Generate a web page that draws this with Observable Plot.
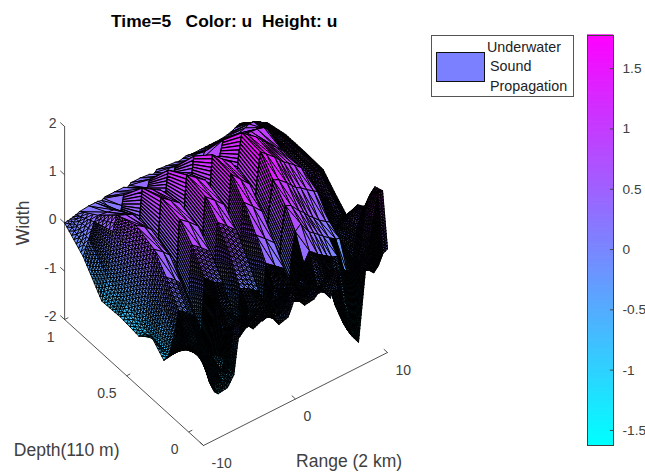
<!DOCTYPE html>
<html><head><meta charset="utf-8">
<script src="https://cdn.jsdelivr.net/npm/d3@7"></script>
<script src="https://cdn.jsdelivr.net/npm/@observablehq/plot@0.6"></script>
<style>
html,body{margin:0;padding:0;background:#fff;font-family:"Liberation Sans",Arial,sans-serif}
#page{position:relative;width:645px;height:472px;overflow:hidden}
#page svg{display:block;position:absolute;background:transparent;overflow:visible}
.t{position:absolute;white-space:pre;color:#000}
#legend{position:absolute;left:431px;top:35px;width:141px;height:60px;border:1.5px solid #555;background:#fff}
#swatch{position:absolute;left:4px;top:16px;width:47px;height:28px;background:#7a80ff;border:1px solid #111}
</style></head><body><div id="page">
<div class="t" style="left:111px;top:11px;font:bold 17.4px 'Liberation Sans'">Time=5   Color: u  Height: u</div>
<div id="legend"><div id="swatch"></div>
<div class="t" style="left:55px;top:3px;font:14.3px 'Liberation Sans';color:#222">Underwater</div>
<div class="t" style="left:58px;top:22px;font:14.3px 'Liberation Sans';color:#222">Sound</div>
<div class="t" style="left:58px;top:42px;font:14.3px 'Liberation Sans';color:#222">Propagation</div></div>
</div>
<script>
const rangeTicks=[-10,0,10], depthTicks=[0,0.5,1], heightTicks=[-2,-1,0,1,2], colorTicks=[-1.5,-1,-0.5,0,0.5,1,1.5];
const colorDomain=[-1.625,1.775];
const rangeVals=[-10,-9.4,-8.8,-8.4,-7.4,-6.7,-6.4,-6,-5.8,-5.6,-4.6,-3.6,-3.2,-3,-2.8,-1.8,-.8,-.4,-.2,0,1,2,2.4,2.8,3.2,3.8,4.7,5.2,5.7,6.2,6.85,7.6,8,8.5,9,9.5,10];
const depthVals=[1,.85,.7,.55,.4,.3,.2,.12,.05,-.02,-.08,-.12];
const u100=[0,.02,.05,.08,.1,.1,.1,.08,.1,.12,.12,.12,.08,.1,.14,.14,.12,.08,.1,.14,.12,.1,.08,.1,.12,.1,.1,.1,.1,.1,.1,.12,.14,.18,.22,.2,.15];
const u085=[-.35,-.05,.25,.35,.32,.3,.28,.1,.3,.5,.47,.44,.2,.4,.55,.5,.46,.22,.42,.55,.5,.46,.22,.42,.55,.54,.54,.54,.55,.56,.58,.62,.66,.66,.62,.55,.5];
const u070=[-.92,-.5,.4,.7,.62,.56,.5,.05,.6,1,.88,.76,.25,.75,1.1,.95,.85,.3,.8,1.12,1,.9,.35,.85,1.15,1.12,1.1,1.08,1.05,1.03,1.02,.98,.9,.7,.6,.62,.6];
const u055=[-.9,-.7,.3,.85,.72,.6,.5,-.2,.55,1.15,1,.85,-.1,.85,1.35,1.2,1.05,.1,1,1.5,1.32,1.15,.25,1.15,1.65,1.55,1.42,1.32,1.22,1.12,1,.85,.72,.55,.64,.66,.6];
const u040=[-.95,-.85,.1,.7,.55,.42,.35,-.5,.4,1.05,.9,.72,-.3,.7,1.25,1.08,.9,-.1,.9,1.45,1.25,1.05,.05,1,1.6,1.5,1.35,1.25,1.15,1.08,.98,.85,.75,.5,.62,.62,.58];
const u030=[-.72,-.9,-.2,.35,.2,.05,-.05,-.85,.1,.75,.6,.42,-.55,.4,.95,.78,.6,-.35,.6,1.1,.92,.72,-.15,.7,1.25,1.2,1.05,.95,.85,.8,.7,.6,.55,.3,.35,.35,.3];
const u020=[-.98,-.92,-.5,-.1,-.25,-.4,-.5,-1.05,-.3,.3,.12,0,-.9,0,.5,.32,.15,-.75,.15,.65,.48,.3,-.5,.4,.95,.9,.7,.62,.5,.42,.3,.2,.15,-.2,.1,.1,.05];
const u012=[-.65,-.65,-.62,-.55,-.7,-.85,-.95,-1.1,-.7,-.2,-.35,-.45,-1.05,-.4,0,-.1,-.25,-.9,-.2,.25,.1,-.05,-.8,.1,.6,.7,.45,.38,.3,.22,.12,.02,0,-.2,.4,.45,.5];
const u005=[-.38,-.46,-.55,-.62,-.75,-.9,-.85,-1.1,-.9,-.45,-.55,-.55,-.63,-.5,-.3,-.4,-.5,-.6,-.35,-.1,-.2,-.3,-.55,-.2,.1,.3,.15,.08,.02,-.05,-.1,-.5,-.6,-.3,.3,.55,.62];
const um02=[-.28,-.38,-.45,-.6,-.9,-1,-.8,-.3,-.25,-.2,-.25,-.3,-.32,-.28,-.25,-.35,-.45,-.3,-.2,-.1,-.3,-.4,-.2,-.15,-.2,-.35,-.1,-.5,-.85,-.95,-.9,-.3,-.2,.1,.8,1.1,1.2];
const um08=[-.15,-.45,-.9,-1.02,-1,-.8,-.35,.12,.1,.08,-.1,0,.01,.02,.03,-.25,-.2,-.05,.03,.1,-.15,-.1,-.04,-.03,-.1,-.25,.15,-.3,-1.05,-1.25,-1.4,-.1,0,.2,.8,1.25,1.26];
const um12=[-.1,-.4,-1,-1.08,-1.05,-.85,-.4,.15,.14,.12,-.1,-.01,0,.02,.04,-.28,-.22,-.05,.05,.11,-.15,-.12,-.05,-.05,-.1,-.27,.2,-.5,-1.13,-1.3,-1.48,-.07,-.1,-.2,-.1,.1,.15];
const heightRows=[u100,u085,u070,u055,u040,u030,u020,u012,u005,um02,um08,um12];

// the view of the 3-D box: how a unit of range, depth and height moves on the plane
const view={x0:203,y0:445,rx:9.2,ry:-4.65,dx:-124,dy:-112.5,hy:-48.25};
const px=(r,d)=>view.x0+(r+10)*view.rx+(d+.12)*view.dx;
const py=(r,d,h)=>view.y0+(r+10)*view.ry+(d+.12)*view.dy+(h+2)*view.hy;

const tris=[];
let id=0;
const lerp=(a,b,t)=>a+(b-a)*t;
for(let i=0;i<depthVals.length-1;i++)for(let j=rangeVals.length-2;j>=0;j--){
  const r0=rangeVals[j],r1=rangeVals[j+1],d0=depthVals[i],d1=depthVals[i+1];
  const H=heightRows[i],G=heightRows[i+1];
  const at=(s,t)=>{const r=lerp(r0,r1,s),d=lerp(d0,d1,t),h=lerp(lerp(H[j],H[j+1],s),lerp(G[j],G[j+1],s),t);return {X:px(r,d),Y:py(r,d,h),h}};
  const rise=Math.max(Math.abs(H[j+1]-H[j]),Math.abs(G[j+1]-G[j]));
  const mr=(r0+r1)/2, md=(d0+d1)/2;
  const lobe=mr>3.2&&mr<8.2&&md>.03;
  const dark=!lobe&&(md<.1||(md<.22&&mr<-3.2)||mr>8.4);
  const medium=!dark&&!lobe&&(mr<-8.4||(md<.35&&mr<0));
  let nx=rise>.3?Math.ceil(rise*48/4.2):1, ny=1;
  if(dark||medium){
    const cell=dark?3.2:5.2;
    const a=at(0,0),b=at(1,0),c=at(0,1),e=at(1,1);
    nx=Math.max(nx,Math.ceil(Math.hypot(a.X-b.X,a.Y-b.Y)/cell));
    ny=Math.ceil(Math.max(Math.hypot(a.X-c.X,a.Y-c.Y),Math.hypot(b.X-e.X,b.Y-e.Y))/cell);
  }
  const w=dark?1.05:medium?.9:nx>1?1.25:.95;
  for(let m=0;m<ny;m++)for(let k=nx-1;k>=0;k--){
    const s0=k/nx,s1=(k+1)/nx,t0=m/ny,t1=(m+1)/ny;
    const A=at(s1,t0),B=at(s0,t0),C=at(s0,t1),E=at(s1,t1);
    const polys=(nx>1&&!dark&&!medium)?[[A,B,C,E]]:[[A,B,E],[B,C,E]];
    for(const p of polys){
      id++;const u=d3.mean(p,q=>q.h);
      for(const q of p)tris.push({id,X:q.X,Y:q.Y,u,w});
    }
  }
}
const axisLines=[
 [{X:px(-10,-.12),Y:py(-10,-.12,-2)},{X:px(10,-.12),Y:py(10,-.12,-2)}],
 [{X:px(-10,-.12),Y:py(-10,-.12,-2)},{X:px(-10,1),Y:py(-10,1,-2)}],
 [{X:px(-10,1),Y:py(-10,1,-2)},{X:px(-10,1),Y:py(-10,1,2)}]
].flatMap((l,i)=>l.map(p=>({...p,i})));
const tickRange=rangeTicks.map(r=>({X1:px(r,-.12),Y1:py(r,-.12,-2),X2:px(r,-.09),Y2:py(r,-.09,-2),X:px(r,-.12),Y:py(r,-.12,-2),t:r}));
const tickDepth=depthTicks.map(d=>({X1:px(-10,d),Y1:py(-10,d,-2),X2:px(-9.6,d),Y2:py(-9.6,d,-2),X:px(-10,d),Y:py(-10,d,-2),t:d}));
const tickHeight=heightTicks.map(h=>({X1:px(-10,1),Y1:py(-10,1,h),X2:px(-10,1.035),Y2:py(-10,1.035,h),X:px(-10,1),Y:py(-10,1,h),t:h}));
const ink="#404040", font="Liberation Sans";
const labels=[
 {X:px(-10,1),Y:py(-10,1,0),s:"Width",dx:-41,dy:0,rotate:-90},
 {X:px(-10,.5),Y:py(-10,.5,-2),s:"Depth(110 m)",dx:-60,dy:75,rotate:0},
 {X:px(3,-.12),Y:py(3,-.12,-2),s:"Range (2 km)",dx:26,dy:76,rotate:0}
];
const main=Plot.plot({width:645,height:472,margin:0,
 x:{domain:[0,645],range:[0,645],axis:null},y:{domain:[0,472],range:[0,472],axis:null},
 color:{type:"linear",domain:colorDomain,range:["#00ffff","#ff00ff"],interpolate:"rgb"},
 style:{background:"transparent",fontFamily:font},
 marks:[
  Plot.line(axisLines,{x:"X",y:"Y",z:"i",stroke:ink,strokeWidth:.9}),
  Plot.link(tickRange.concat(tickDepth,tickHeight),{x1:"X1",y1:"Y1",x2:"X2",y2:"Y2",stroke:ink,strokeWidth:.9}),
  Plot.text(tickHeight,{x:"X",y:"Y",text:d=>String(d.t),dx:-8,dy:-3,textAnchor:"end",fontSize:14,fill:ink}),
  Plot.text(tickDepth,{x:"X",y:"Y",text:d=>String(d.t),dx:-10,dy:18,textAnchor:"end",fontSize:14,fill:ink}),
  Plot.text(tickRange,{x:"X",y:"Y",text:d=>String(d.t),dx:8,dy:18,textAnchor:"start",fontSize:14,fill:ink}),
  Plot.line(tris,{x:"X",y:"Y",z:"id",fill:"u",stroke:"#000",strokeWidth:"w",curve:"linear-closed",strokeLinejoin:"round"}),
  ...labels.map(l=>Plot.text([l],{x:"X",y:"Y",text:"s",dx:l.dx,dy:l.dy,rotate:l.rotate,fontSize:17.5,fill:ink}))
 ]});
main.style.left="0";main.style.top="0";
document.getElementById("page").appendChild(main);

const step=.02;
const ramp=d3.range(colorDomain[0],colorDomain[1],step);
const bar=Plot.plot({width:60,height:472,marginLeft:0,marginRight:34,marginTop:35,marginBottom:27,
 x:{domain:[0,1],axis:null},y:{domain:colorDomain,axis:null},
 color:{type:"linear",domain:colorDomain,range:["#00ffff","#ff00ff"],interpolate:"rgb"},
 style:{background:"transparent",fontFamily:font},
 marks:[
  Plot.rect(ramp,{x1:0,x2:1,y1:d=>d,y2:d=>d+step*1.3,fill:d=>d}),
  Plot.ruleY(colorTicks,{x1:.88,x2:1,stroke:ink,strokeWidth:.9}),
  Plot.frame({stroke:ink,strokeWidth:1}),
  Plot.axisY(colorTicks,{anchor:"right",tickSize:0,tickPadding:9,tickFormat:d=>String(d),fontSize:13.7,color:ink,fill:ink,label:null})
 ]});
bar.style.left="587px";bar.style.top="0";
document.getElementById("page").appendChild(bar);
</script></body></html>
